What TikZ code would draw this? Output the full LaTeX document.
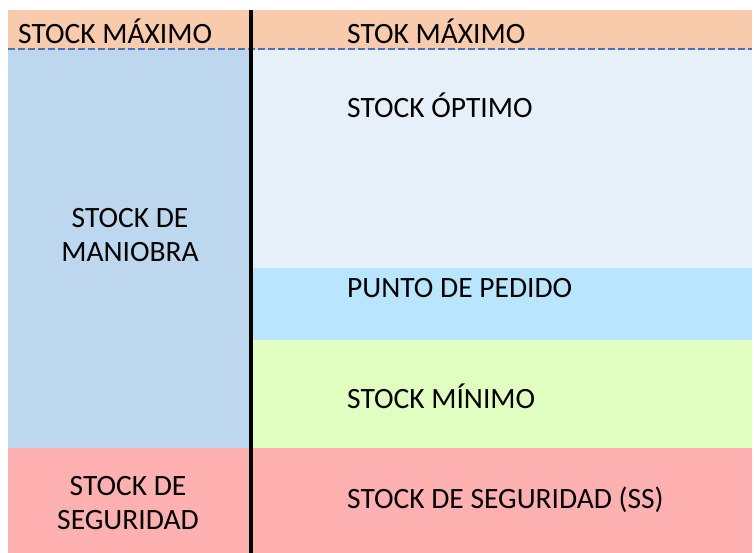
\documentclass[tikz,border=0pt]{standalone}
\usepackage{fontspec}
\setmainfont{Carlito}
\definecolor{peach}{HTML}{F8CBAD}
\definecolor{maniobra}{HTML}{BDD7EE}
\definecolor{optimo}{HTML}{E6F0F9}
\definecolor{pedido}{HTML}{B9E5FF}
\definecolor{minimo}{HTML}{E0FFC0}
\definecolor{seguridad}{HTML}{FFB0B0}
\definecolor{dashblue}{HTML}{4472C4}
\tikzset{
  label/.style={anchor=west, inner sep=0pt, font=\fontsize{29.5}{33.5}\selectfont},
  cell/.style={align=center, inner sep=0pt, font=\fontsize{29.5}{33.5}\selectfont}
}
\begin{document}
\begin{tikzpicture}[x=1pt,y=-1pt]
    \useasboundingbox (0,0) rectangle (754,553);

    \fill[peach] (8,10) rectangle (752,50);
    \fill[maniobra] (8,50) rectangle (251,448);
    \fill[optimo] (251,50) rectangle (752,268);
    \fill[pedido] (251,268) rectangle (752,340);
    \fill[minimo] (251,340) rectangle (752,448);
    \fill[seguridad] (8,448) rectangle (752,553);

    \draw[dashblue, line width=2pt, dash pattern=on 7pt off 3pt] (8,49.5) -- (752,49.5);
    \draw[line width=3.5pt] (251,10) -- (251,553);

    \node[label] (maxleft) at (18,31) {STOCK MÁXIMO};
    \node[label] (maxright) at (347,31) {STOK MÁXIMO};
    \node[label] (optimo) at (347,105) {STOCK ÓPTIMO};
    \node[label] (pedido) at (347,288) {PUNTO DE PEDIDO};
    \node[label] (minimo) at (347,396) {STOCK MÍNIMO};
    \node[label] (ss) at (347,500) {STOCK DE SEGURIDAD (SS)};

    \node[cell] (maniobra) at (130,235) {STOCK DE\\MANIOBRA};
    \node[cell] (seguridad) at (128,503) {STOCK DE\\SEGURIDAD};
\end{tikzpicture}
\end{document}
